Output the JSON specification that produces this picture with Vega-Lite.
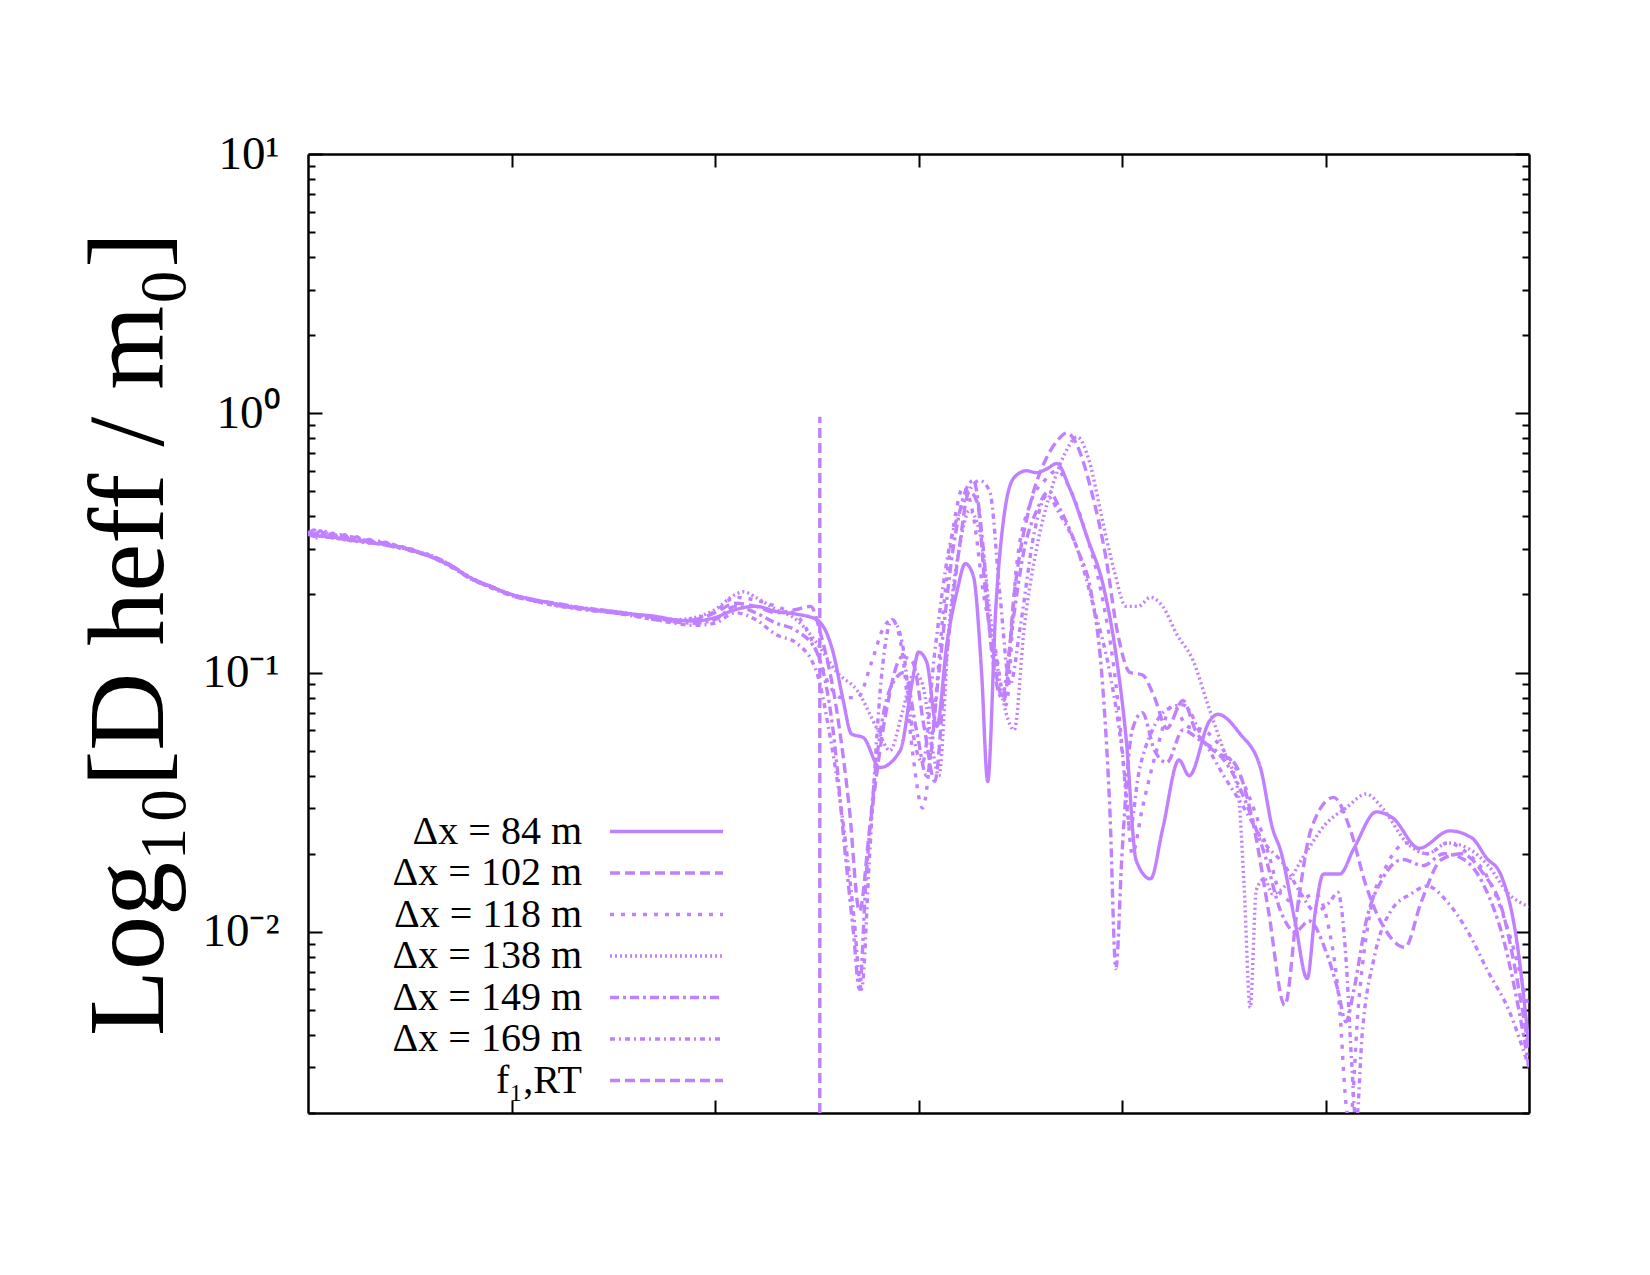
{
"$schema": "https://vega.github.io/schema/vega-lite/v6.json",
"width": 1221, "height": 959,
"autosize": "none",
"padding": {"left": 308, "top": 154, "right": 121, "bottom": 162},
"background": "white",
"config": {"view": {"stroke": null}, "font": "Liberation Serif"},
"datasets": {
"fline": [{"s":"f","x":2.515,"y":0.002},{"s":"f","x":2.515,"y":0.97}],
"curves": [
{"s":"84","x":0,"y":0.35},{"s":"84","x":0.03,"y":0.335},{"s":"84","x":0.06,"y":0.352},{"s":"84","x":0.09,"y":0.333},{"s":"84","x":0.12,"y":0.345},{"s":"84","x":0.15,"y":0.328},{"s":"84","x":0.18,"y":0.34},{"s":"84","x":0.21,"y":0.322},{"s":"84","x":0.24,"y":0.334},{"s":"84","x":0.27,"y":0.318},{"s":"84","x":0.3,"y":0.326},{"s":"84","x":0.34,"y":0.314},{"s":"84","x":0.38,"y":0.318},{"s":"84","x":0.42,"y":0.306},{"s":"84","x":0.46,"y":0.306},{"s":"84","x":0.5,"y":0.296},{"s":"84","x":0.55,"y":0.29},{"s":"84","x":0.6,"y":0.28},{"s":"84","x":0.7,"y":0.258},{"s":"84","x":0.8,"y":0.232},{"s":"84","x":0.9,"y":0.214},{"s":"84","x":1.0,"y":0.2},{"s":"84","x":1.1,"y":0.192},{"s":"84","x":1.2,"y":0.185},{"s":"84","x":1.3,"y":0.179},{"s":"84","x":1.4,"y":0.175},{"s":"84","x":1.5,"y":0.172},{"s":"84","x":1.6,"y":0.168},{"s":"84","x":1.7,"y":0.165},{"s":"84","x":1.8,"y":0.16},{"s":"84","x":1.9,"y":0.158},{"s":"84","x":2.0,"y":0.163},{"s":"84","x":2.1,"y":0.175},{"s":"84","x":2.2,"y":0.18},{"s":"84","x":2.3,"y":0.172},{"s":"84","x":2.4,"y":0.168},{"s":"84","x":2.5,"y":0.16},{"s":"84","x":2.58,"y":0.12},{"s":"84","x":2.63,"y":0.078},{"s":"84","x":2.67,"y":0.058},{"s":"84","x":2.73,"y":0.056},{"s":"84","x":2.81,"y":0.043},{"s":"84","x":2.91,"y":0.05},{"s":"84","x":2.97,"y":0.093},{"s":"84","x":3.0,"y":0.12},{"s":"84","x":3.04,"y":0.11},{"s":"84","x":3.09,"y":0.062},{"s":"84","x":3.14,"y":0.13},{"s":"84","x":3.19,"y":0.207},{"s":"84","x":3.23,"y":0.263},{"s":"84","x":3.27,"y":0.235},{"s":"84","x":3.31,"y":0.1},{"s":"84","x":3.34,"y":0.038},{"s":"84","x":3.38,"y":0.178},{"s":"84","x":3.42,"y":0.4},{"s":"84","x":3.47,"y":0.565},{"s":"84","x":3.53,"y":0.6},{"s":"84","x":3.58,"y":0.59},{"s":"84","x":3.63,"y":0.61},{"s":"84","x":3.68,"y":0.64},{"s":"84","x":3.74,"y":0.52},{"s":"84","x":3.83,"y":0.33},{"s":"84","x":3.91,"y":0.213},{"s":"84","x":3.97,"y":0.118},{"s":"84","x":4.02,"y":0.056},{"s":"84","x":4.07,"y":0.0188},{"s":"84","x":4.14,"y":0.016},{"s":"84","x":4.2,"y":0.025},{"s":"84","x":4.28,"y":0.046},{"s":"84","x":4.33,"y":0.04},{"s":"84","x":4.43,"y":0.065},{"s":"84","x":4.47,"y":0.069},{"s":"84","x":4.58,"y":0.058},{"s":"84","x":4.68,"y":0.043},{"s":"84","x":4.74,"y":0.025},{"s":"84","x":4.78,"y":0.0205},{"s":"84","x":4.85,"y":0.011},{"s":"84","x":4.91,"y":0.0066},{"s":"84","x":4.95,"y":0.012},{"s":"84","x":4.99,"y":0.0167},{"s":"84","x":5.07,"y":0.0167},{"s":"84","x":5.14,"y":0.021},{"s":"84","x":5.25,"y":0.029},{"s":"84","x":5.33,"y":0.0275},{"s":"84","x":5.46,"y":0.021},{"s":"84","x":5.61,"y":0.0245},{"s":"84","x":5.72,"y":0.023},{"s":"84","x":5.79,"y":0.0193},{"s":"84","x":5.86,"y":0.0167},{"s":"84","x":5.94,"y":0.0092},{"s":"84","x":6.0,"y":0.0036},
{"s":"102","x":0,"y":0.34},{"s":"102","x":0.03,"y":0.355},{"s":"102","x":0.06,"y":0.336},{"s":"102","x":0.09,"y":0.35},{"s":"102","x":0.12,"y":0.33},{"s":"102","x":0.15,"y":0.342},{"s":"102","x":0.18,"y":0.325},{"s":"102","x":0.21,"y":0.336},{"s":"102","x":0.24,"y":0.32},{"s":"102","x":0.27,"y":0.33},{"s":"102","x":0.3,"y":0.315},{"s":"102","x":0.34,"y":0.322},{"s":"102","x":0.38,"y":0.31},{"s":"102","x":0.42,"y":0.312},{"s":"102","x":0.46,"y":0.3},{"s":"102","x":0.5,"y":0.3},{"s":"102","x":0.55,"y":0.288},{"s":"102","x":0.6,"y":0.282},{"s":"102","x":0.7,"y":0.26},{"s":"102","x":0.8,"y":0.23},{"s":"102","x":0.9,"y":0.215},{"s":"102","x":1.0,"y":0.198},{"s":"102","x":1.1,"y":0.19},{"s":"102","x":1.2,"y":0.186},{"s":"102","x":1.3,"y":0.18},{"s":"102","x":1.4,"y":0.174},{"s":"102","x":1.5,"y":0.17},{"s":"102","x":1.6,"y":0.167},{"s":"102","x":1.7,"y":0.163},{"s":"102","x":1.8,"y":0.158},{"s":"102","x":1.9,"y":0.16},{"s":"102","x":2.0,"y":0.17},{"s":"102","x":2.1,"y":0.185},{"s":"102","x":2.2,"y":0.18},{"s":"102","x":2.3,"y":0.17},{"s":"102","x":2.4,"y":0.175},{"s":"102","x":2.47,"y":0.18},{"s":"102","x":2.52,"y":0.14},{"s":"102","x":2.6,"y":0.07},{"s":"102","x":2.66,"y":0.03},{"s":"102","x":2.71,"y":0.012},{"s":"102","x":2.76,"y":0.025},{"s":"102","x":2.84,"y":0.07},{"s":"102","x":2.92,"y":0.115},{"s":"102","x":2.97,"y":0.11},{"s":"102","x":3.03,"y":0.06},{"s":"102","x":3.08,"y":0.038},{"s":"102","x":3.13,"y":0.1},{"s":"102","x":3.2,"y":0.3},{"s":"102","x":3.25,"y":0.5},{"s":"102","x":3.29,"y":0.45},{"s":"102","x":3.33,"y":0.2},{"s":"102","x":3.38,"y":0.1},{"s":"102","x":3.42,"y":0.078},{"s":"102","x":3.47,"y":0.2},{"s":"102","x":3.55,"y":0.45},{"s":"102","x":3.62,"y":0.65},{"s":"102","x":3.68,"y":0.78},{"s":"102","x":3.73,"y":0.84},{"s":"102","x":3.78,"y":0.75},{"s":"102","x":3.85,"y":0.5},{"s":"102","x":3.92,"y":0.28},{"s":"102","x":3.98,"y":0.14},{"s":"102","x":4.04,"y":0.1},{"s":"102","x":4.1,"y":0.098},{"s":"102","x":4.16,"y":0.08},{"s":"102","x":4.22,"y":0.061},{"s":"102","x":4.3,"y":0.078},{"s":"102","x":4.36,"y":0.06},{"s":"102","x":4.45,"y":0.05},{"s":"102","x":4.55,"y":0.045},{"s":"102","x":4.65,"y":0.025},{"s":"102","x":4.72,"y":0.012},{"s":"102","x":4.8,"y":0.0052},{"s":"102","x":4.86,"y":0.012},{"s":"102","x":4.93,"y":0.025},{"s":"102","x":5.04,"y":0.033},{"s":"102","x":5.12,"y":0.025},{"s":"102","x":5.2,"y":0.015},{"s":"102","x":5.3,"y":0.01},{"s":"102","x":5.39,"y":0.0087},{"s":"102","x":5.47,"y":0.013},{"s":"102","x":5.57,"y":0.019},{"s":"102","x":5.67,"y":0.02},{"s":"102","x":5.77,"y":0.017},{"s":"102","x":5.87,"y":0.012},{"s":"102","x":5.95,"y":0.006},{"s":"102","x":6.0,"y":0.0035},
{"s":"118","x":0,"y":0.345},{"s":"118","x":0.05,"y":0.335},{"s":"118","x":0.1,"y":0.34},{"s":"118","x":0.15,"y":0.328},{"s":"118","x":0.2,"y":0.33},{"s":"118","x":0.3,"y":0.318},{"s":"118","x":0.4,"y":0.31},{"s":"118","x":0.5,"y":0.298},{"s":"118","x":0.6,"y":0.283},{"s":"118","x":0.7,"y":0.26},{"s":"118","x":0.8,"y":0.232},{"s":"118","x":0.9,"y":0.214},{"s":"118","x":1.0,"y":0.2},{"s":"118","x":1.1,"y":0.19},{"s":"118","x":1.2,"y":0.184},{"s":"118","x":1.3,"y":0.178},{"s":"118","x":1.4,"y":0.176},{"s":"118","x":1.5,"y":0.172},{"s":"118","x":1.6,"y":0.166},{"s":"118","x":1.7,"y":0.16},{"s":"118","x":1.8,"y":0.158},{"s":"118","x":1.9,"y":0.162},{"s":"118","x":2.0,"y":0.172},{"s":"118","x":2.1,"y":0.195},{"s":"118","x":2.2,"y":0.19},{"s":"118","x":2.3,"y":0.18},{"s":"118","x":2.42,"y":0.16},{"s":"118","x":2.5,"y":0.12},{"s":"118","x":2.56,"y":0.09},{"s":"118","x":2.62,"y":0.08},{"s":"118","x":2.7,"y":0.08},{"s":"118","x":2.77,"y":0.11},{"s":"118","x":2.83,"y":0.15},{"s":"118","x":2.87,"y":0.16},{"s":"118","x":2.92,"y":0.12},{"s":"118","x":2.97,"y":0.05},{"s":"118","x":3.02,"y":0.03},{"s":"118","x":3.07,"y":0.06},{"s":"118","x":3.13,"y":0.2},{"s":"118","x":3.18,"y":0.4},{"s":"118","x":3.22,"y":0.52},{"s":"118","x":3.27,"y":0.4},{"s":"118","x":3.32,"y":0.2},{"s":"118","x":3.38,"y":0.12},{"s":"118","x":3.43,"y":0.075},{"s":"118","x":3.48,"y":0.25},{"s":"118","x":3.55,"y":0.45},{"s":"118","x":3.62,"y":0.55},{"s":"118","x":3.68,"y":0.6},{"s":"118","x":3.75,"y":0.5},{"s":"118","x":3.82,"y":0.35},{"s":"118","x":3.9,"y":0.2},{"s":"118","x":3.97,"y":0.09},{"s":"118","x":4.02,"y":0.035},{"s":"118","x":4.05,"y":0.02},{"s":"118","x":4.1,"y":0.03},{"s":"118","x":4.17,"y":0.05},{"s":"118","x":4.25,"y":0.075},{"s":"118","x":4.32,"y":0.062},{"s":"118","x":4.4,"y":0.06},{"s":"118","x":4.5,"y":0.05},{"s":"118","x":4.58,"y":0.04},{"s":"118","x":4.66,"y":0.028},{"s":"118","x":4.72,"y":0.02},{"s":"118","x":4.78,"y":0.014},{"s":"118","x":4.85,"y":0.013},{"s":"118","x":4.95,"y":0.014},{"s":"118","x":5.02,"y":0.01},{"s":"118","x":5.07,"y":0.005},{"s":"118","x":5.1,"y":0.0022},{"s":"118","x":5.12,"y":0.0018},{"s":"118","x":5.16,"y":0.005},{"s":"118","x":5.22,"y":0.012},{"s":"118","x":5.3,"y":0.018},{"s":"118","x":5.4,"y":0.022},{"s":"118","x":5.5,"y":0.02},{"s":"118","x":5.6,"y":0.022},{"s":"118","x":5.7,"y":0.02},{"s":"118","x":5.8,"y":0.016},{"s":"118","x":5.9,"y":0.01},{"s":"118","x":6.0,"y":0.005},
{"s":"138","x":0,"y":0.35},{"s":"138","x":0.04,"y":0.338},{"s":"138","x":0.08,"y":0.348},{"s":"138","x":0.12,"y":0.334},{"s":"138","x":0.16,"y":0.34},{"s":"138","x":0.2,"y":0.326},{"s":"138","x":0.25,"y":0.33},{"s":"138","x":0.3,"y":0.318},{"s":"138","x":0.4,"y":0.31},{"s":"138","x":0.5,"y":0.297},{"s":"138","x":0.6,"y":0.284},{"s":"138","x":0.7,"y":0.26},{"s":"138","x":0.8,"y":0.232},{"s":"138","x":0.9,"y":0.215},{"s":"138","x":1.0,"y":0.2},{"s":"138","x":1.1,"y":0.191},{"s":"138","x":1.2,"y":0.185},{"s":"138","x":1.3,"y":0.18},{"s":"138","x":1.4,"y":0.176},{"s":"138","x":1.5,"y":0.172},{"s":"138","x":1.6,"y":0.168},{"s":"138","x":1.7,"y":0.163},{"s":"138","x":1.8,"y":0.16},{"s":"138","x":1.9,"y":0.163},{"s":"138","x":2.0,"y":0.175},{"s":"138","x":2.1,"y":0.2},{"s":"138","x":2.14,"y":0.205},{"s":"138","x":2.2,"y":0.195},{"s":"138","x":2.3,"y":0.175},{"s":"138","x":2.4,"y":0.16},{"s":"138","x":2.5,"y":0.13},{"s":"138","x":2.6,"y":0.1},{"s":"138","x":2.7,"y":0.085},{"s":"138","x":2.8,"y":0.06},{"s":"138","x":2.86,"y":0.05},{"s":"138","x":2.92,"y":0.07},{"s":"138","x":2.98,"y":0.1},{"s":"138","x":3.02,"y":0.09},{"s":"138","x":3.07,"y":0.05},{"s":"138","x":3.1,"y":0.04},{"s":"138","x":3.15,"y":0.15},{"s":"138","x":3.2,"y":0.3},{"s":"138","x":3.25,"y":0.42},{"s":"138","x":3.3,"y":0.35},{"s":"138","x":3.36,"y":0.15},{"s":"138","x":3.43,"y":0.07},{"s":"138","x":3.47,"y":0.06},{"s":"138","x":3.52,"y":0.15},{"s":"138","x":3.58,"y":0.3},{"s":"138","x":3.65,"y":0.5},{"s":"138","x":3.72,"y":0.7},{"s":"138","x":3.78,"y":0.81},{"s":"138","x":3.84,"y":0.65},{"s":"138","x":3.9,"y":0.4},{"s":"138","x":3.96,"y":0.25},{"s":"138","x":4.02,"y":0.18},{"s":"138","x":4.08,"y":0.18},{"s":"138","x":4.14,"y":0.195},{"s":"138","x":4.2,"y":0.18},{"s":"138","x":4.27,"y":0.14},{"s":"138","x":4.35,"y":0.111},{"s":"138","x":4.42,"y":0.076},{"s":"138","x":4.5,"y":0.05},{"s":"138","x":4.57,"y":0.035},{"s":"138","x":4.6,"y":0.015},{"s":"138","x":4.63,"y":0.0051},{"s":"138","x":4.66,"y":0.0145},{"s":"138","x":4.7,"y":0.016},{"s":"138","x":4.74,"y":0.014},{"s":"138","x":4.8,"y":0.015},{"s":"138","x":4.9,"y":0.02},{"s":"138","x":5.0,"y":0.026},{"s":"138","x":5.1,"y":0.03},{"s":"138","x":5.2,"y":0.034},{"s":"138","x":5.28,"y":0.03},{"s":"138","x":5.4,"y":0.022},{"s":"138","x":5.5,"y":0.02},{"s":"138","x":5.6,"y":0.022},{"s":"138","x":5.7,"y":0.021},{"s":"138","x":5.8,"y":0.018},{"s":"138","x":5.9,"y":0.014},{"s":"138","x":6.0,"y":0.0125},
{"s":"149","x":0,"y":0.34},{"s":"149","x":0.05,"y":0.345},{"s":"149","x":0.1,"y":0.332},{"s":"149","x":0.15,"y":0.336},{"s":"149","x":0.2,"y":0.324},{"s":"149","x":0.3,"y":0.32},{"s":"149","x":0.4,"y":0.308},{"s":"149","x":0.5,"y":0.297},{"s":"149","x":0.6,"y":0.282},{"s":"149","x":0.7,"y":0.258},{"s":"149","x":0.8,"y":0.23},{"s":"149","x":0.9,"y":0.213},{"s":"149","x":1.0,"y":0.2},{"s":"149","x":1.1,"y":0.19},{"s":"149","x":1.2,"y":0.183},{"s":"149","x":1.3,"y":0.178},{"s":"149","x":1.4,"y":0.174},{"s":"149","x":1.5,"y":0.17},{"s":"149","x":1.6,"y":0.167},{"s":"149","x":1.7,"y":0.162},{"s":"149","x":1.8,"y":0.157},{"s":"149","x":1.9,"y":0.155},{"s":"149","x":2.0,"y":0.16},{"s":"149","x":2.1,"y":0.18},{"s":"149","x":2.2,"y":0.17},{"s":"149","x":2.3,"y":0.155},{"s":"149","x":2.4,"y":0.145},{"s":"149","x":2.5,"y":0.12},{"s":"149","x":2.58,"y":0.06},{"s":"149","x":2.64,"y":0.02},{"s":"149","x":2.68,"y":0.01},{"s":"149","x":2.71,"y":0.006},{"s":"149","x":2.74,"y":0.015},{"s":"149","x":2.8,"y":0.05},{"s":"149","x":2.87,"y":0.09},{"s":"149","x":2.93,"y":0.1},{"s":"149","x":2.99,"y":0.06},{"s":"149","x":3.04,"y":0.04},{"s":"149","x":3.1,"y":0.1},{"s":"149","x":3.17,"y":0.3},{"s":"149","x":3.23,"y":0.5},{"s":"149","x":3.27,"y":0.55},{"s":"149","x":3.31,"y":0.35},{"s":"149","x":3.36,"y":0.12},{"s":"149","x":3.41,"y":0.08},{"s":"149","x":3.46,"y":0.15},{"s":"149","x":3.52,"y":0.3},{"s":"149","x":3.58,"y":0.42},{"s":"149","x":3.64,"y":0.5},{"s":"149","x":3.7,"y":0.42},{"s":"149","x":3.78,"y":0.3},{"s":"149","x":3.85,"y":0.2},{"s":"149","x":3.9,"y":0.1},{"s":"149","x":3.94,"y":0.03},{"s":"149","x":3.97,"y":0.0072},{"s":"149","x":4.0,"y":0.02},{"s":"149","x":4.05,"y":0.06},{"s":"149","x":4.1,"y":0.07},{"s":"149","x":4.16,"y":0.05},{"s":"149","x":4.22,"y":0.045},{"s":"149","x":4.3,"y":0.06},{"s":"149","x":4.38,"y":0.055},{"s":"149","x":4.46,"y":0.05},{"s":"149","x":4.55,"y":0.04},{"s":"149","x":4.62,"y":0.03},{"s":"149","x":4.7,"y":0.02},{"s":"149","x":4.78,"y":0.012},{"s":"149","x":4.85,"y":0.01},{"s":"149","x":4.92,"y":0.011},{"s":"149","x":5.0,"y":0.0085},{"s":"149","x":5.06,"y":0.006},{"s":"149","x":5.1,"y":0.0045},{"s":"149","x":5.14,"y":0.006},{"s":"149","x":5.2,"y":0.011},{"s":"149","x":5.28,"y":0.016},{"s":"149","x":5.38,"y":0.019},{"s":"149","x":5.48,"y":0.018},{"s":"149","x":5.58,"y":0.02},{"s":"149","x":5.68,"y":0.019},{"s":"149","x":5.78,"y":0.015},{"s":"149","x":5.88,"y":0.009},{"s":"149","x":5.95,"y":0.005},{"s":"149","x":6.0,"y":0.003},
{"s":"169","x":0,"y":0.345},{"s":"169","x":0.05,"y":0.33},{"s":"169","x":0.1,"y":0.342},{"s":"169","x":0.15,"y":0.33},{"s":"169","x":0.2,"y":0.334},{"s":"169","x":0.3,"y":0.318},{"s":"169","x":0.4,"y":0.312},{"s":"169","x":0.5,"y":0.296},{"s":"169","x":0.6,"y":0.28},{"s":"169","x":0.7,"y":0.256},{"s":"169","x":0.8,"y":0.23},{"s":"169","x":0.9,"y":0.212},{"s":"169","x":1.0,"y":0.198},{"s":"169","x":1.1,"y":0.19},{"s":"169","x":1.2,"y":0.182},{"s":"169","x":1.3,"y":0.177},{"s":"169","x":1.4,"y":0.173},{"s":"169","x":1.5,"y":0.17},{"s":"169","x":1.6,"y":0.165},{"s":"169","x":1.7,"y":0.16},{"s":"169","x":1.8,"y":0.155},{"s":"169","x":1.9,"y":0.152},{"s":"169","x":2.0,"y":0.155},{"s":"169","x":2.1,"y":0.17},{"s":"169","x":2.2,"y":0.16},{"s":"169","x":2.3,"y":0.14},{"s":"169","x":2.4,"y":0.13},{"s":"169","x":2.5,"y":0.1},{"s":"169","x":2.56,"y":0.06},{"s":"169","x":2.62,"y":0.03},{"s":"169","x":2.68,"y":0.012},{"s":"169","x":2.72,"y":0.006},{"s":"169","x":2.76,"y":0.02},{"s":"169","x":2.82,"y":0.1},{"s":"169","x":2.87,"y":0.16},{"s":"169","x":2.92,"y":0.13},{"s":"169","x":2.97,"y":0.06},{"s":"169","x":3.02,"y":0.045},{"s":"169","x":3.08,"y":0.12},{"s":"169","x":3.15,"y":0.3},{"s":"169","x":3.22,"y":0.45},{"s":"169","x":3.3,"y":0.55},{"s":"169","x":3.35,"y":0.5},{"s":"169","x":3.4,"y":0.2},{"s":"169","x":3.45,"y":0.09},{"s":"169","x":3.5,"y":0.15},{"s":"169","x":3.57,"y":0.35},{"s":"169","x":3.63,"y":0.48},{"s":"169","x":3.7,"y":0.4},{"s":"169","x":3.78,"y":0.3},{"s":"169","x":3.86,"y":0.18},{"s":"169","x":3.94,"y":0.1},{"s":"169","x":4.0,"y":0.05},{"s":"169","x":4.04,"y":0.025},{"s":"169","x":4.08,"y":0.04},{"s":"169","x":4.15,"y":0.06},{"s":"169","x":4.22,"y":0.072},{"s":"169","x":4.3,"y":0.075},{"s":"169","x":4.4,"y":0.055},{"s":"169","x":4.5,"y":0.04},{"s":"169","x":4.6,"y":0.03},{"s":"169","x":4.7,"y":0.022},{"s":"169","x":4.8,"y":0.018},{"s":"169","x":4.88,"y":0.014},{"s":"169","x":4.95,"y":0.012},{"s":"169","x":5.02,"y":0.013},{"s":"169","x":5.06,"y":0.0142},{"s":"169","x":5.1,"y":0.008},{"s":"169","x":5.13,"y":0.003},{"s":"169","x":5.15,"y":0.0018},{"s":"169","x":5.18,"y":0.004},{"s":"169","x":5.24,"y":0.008},{"s":"169","x":5.32,"y":0.012},{"s":"169","x":5.42,"y":0.014},{"s":"169","x":5.5,"y":0.015},{"s":"169","x":5.6,"y":0.013},{"s":"169","x":5.7,"y":0.01},{"s":"169","x":5.8,"y":0.007},{"s":"169","x":5.9,"y":0.005},{"s":"169","x":6.0,"y":0.003}
]
},
"layer": [
{
"data": {"name": "curves"},
"mark": {"type": "line", "color": "#c080ff", "strokeWidth": 3.4, "clip": true, "interpolate": "monotone"},
"encoding": {
"x": {"field": "x", "type": "quantitative", "scale": {"domain": [0, 6], "nice": false, "zero": false},
 "axis": {"orient": "bottom", "values": [1, 2, 3, 4, 5], "labels": false, "title": null, "grid": false, "tickSize": -13, "tickWidth": 2, "tickColor": "black", "domainColor": "black", "domainWidth": 2.5}},
"y": {"field": "y", "type": "quantitative", "scale": {"type": "log", "domain": [0.002, 10], "nice": false},
 "axis": {"orient": "left", "grid": false,
  "values": [0.002,0.003,0.004,0.005,0.006,0.007,0.008,0.009,0.01,0.02,0.03,0.04,0.05,0.06,0.07,0.08,0.09,0.1,0.2,0.3,0.4,0.5,0.6,0.7,0.8,0.9,1,2,3,4,5,6,7,8,9,10],
  "tickSize": {"condition": {"test": "datum.value == 10 || datum.value == 1 || datum.value == 0.1 || datum.value == 0.01", "value": -14}, "value": -7},
  "tickWidth": 2, "tickColor": "black", "domainColor": "black", "domainWidth": 2.5,
  "labelExpr": "datum.value == 10 ? '10¹' : datum.value == 1 ? '10⁰' : datum.value == 0.1 ? '10⁻¹' : datum.value == 0.01 ? '10⁻²' : ''",
  "labelFont": "Liberation Serif", "labelFontSize": 47, "labelColor": "black", "labelPadding": 43, "labelFlush": false, "labelOverlap": false, "labelBound": false,
  "title": "Log₁₀[D heff / m₀]", "titleFont": "Liberation Serif", "titleFontSize": 108, "titleFontWeight": "normal", "titleColor": "black", "titlePadding": 16}},
"strokeDash": {"field": "s", "type": "nominal",
 "scale": {"domain": ["84", "102", "118", "138", "149", "169", "f"], "range": [[1, 0], [10, 5], [4, 7], [2, 3], [9, 4, 3, 4], [5, 4, 2, 4], [10, 5]]},
 "legend": {"orient": "none", "legendX": 338.5, "legendY": 657.5, "title": null, "padding": 0,
  "labelExpr": "datum.value == 'f' ? 'f₁,RT' : 'Δx = ' + datum.value + ' m'",
  "labelAlign": "right", "labelOffset": -104.5, "labelFont": "Liberation Serif", "labelFontSize": 40, "labelColor": "black", "labelLimit": 0,
  "symbolType": "M-11.3,0H11.3", "symbolSize": 100, "symbolStrokeWidth": 3.4, "symbolStrokeColor": "#c080ff", "symbolFillColor": "transparent", "rowPadding": 1.5}}
}
},
{
"data": {"name": "fline"},
"mark": {"type": "line", "color": "#c080ff", "strokeWidth": 3.4, "clip": true},
"encoding": {
"x": {"field": "x", "type": "quantitative",
 "axis": {"orient": "top", "values": [1, 2, 3, 4, 5], "labels": false, "title": null, "grid": false, "tickSize": -13, "tickWidth": 2, "tickColor": "black", "domainColor": "black", "domainWidth": 2.5}},
"y": {"field": "y", "type": "quantitative",
 "axis": {"orient": "right", "grid": false, "labels": false, "title": null,
  "values": [0.002,0.003,0.004,0.005,0.006,0.007,0.008,0.009,0.01,0.02,0.03,0.04,0.05,0.06,0.07,0.08,0.09,0.1,0.2,0.3,0.4,0.5,0.6,0.7,0.8,0.9,1,2,3,4,5,6,7,8,9,10],
  "tickSize": {"condition": {"test": "datum.value == 10 || datum.value == 1 || datum.value == 0.1 || datum.value == 0.01", "value": -14}, "value": -7},
  "tickWidth": 2, "tickColor": "black", "domainColor": "black", "domainWidth": 2.5}},
"strokeDash": {"field": "s", "type": "nominal"}
}
}
],
"resolve": {"axis": {"x": "independent", "y": "independent"}}
}
